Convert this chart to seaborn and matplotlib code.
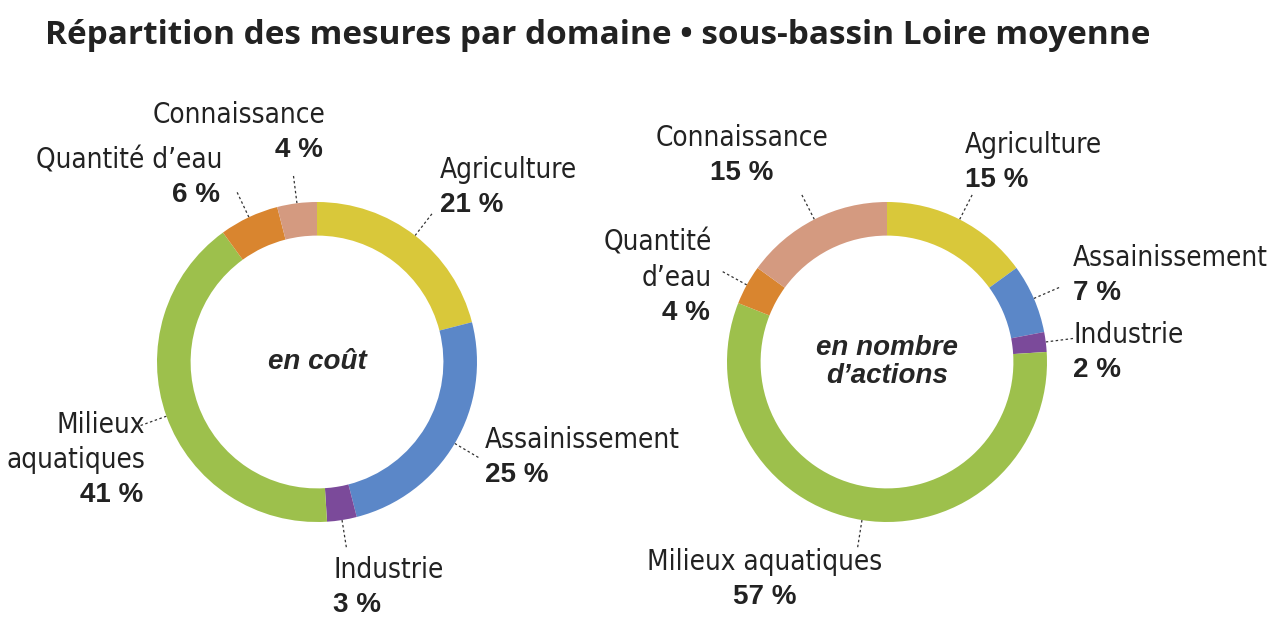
import matplotlib.pyplot as plt
import numpy as np
import seaborn as sns

sns.set_theme(style="white")

domains = ["Agriculture", "Assainissement", "Industrie", "Milieux aquatiques", "Quantité d'eau", "Connaissance"]
cout = [21, 25, 3, 41, 6, 4]
actions = [15, 7, 2, 57, 4, 15]
colors = ["#d9c83a", "#5b87c8", "#7b4a9a", "#9dc04c", "#d9852f", "#d49a80"]

W, H = 1280, 624
fig = plt.figure(figsize=(12.8, 6.24), dpi=100)

# label text blocks: (x, y of first line, ha, lines) in pixels
labels_left = [
    (440, 170, "left", ["Agriculture"]),
    (485, 440, "left", ["Assainissement"]),
    (333, 570, "left", ["Industrie"]),
    (145, 425, "right", ["Milieux", "aquatiques"]),
    (222, 160, "right", ["Quantité d’eau"]),
    (325, 115, "right", ["Connaissance"]),
]
labels_right = [
    (965, 145, "left", ["Agriculture"]),
    (1073, 258, "left", ["Assainissement"]),
    (1073, 335, "left", ["Industrie"]),
    (765, 562, "center", ["Milieux aquatiques"]),
    (712, 243, "right", ["Quantité", "d’eau"]),
    (742, 138, "center", ["Connaissance"]),
]

over = fig.add_axes([0, 0, 1, 1])
over.set_xlim(0, W)
over.set_ylim(H, 0)
over.axis("off")


def donut(cx, cy, values, labels, center_text):
    side = 400
    ax = fig.add_axes([(cx - side / 2) / W, (H - cy - side / 2) / H, side / W, side / H])
    ax.pie(values, colors=colors, startangle=90, counterclock=False, radius=1,
           wedgeprops=dict(width=0.21, edgecolor="none"))
    ax.set_xlim(-1.25, 1.25)
    ax.set_ylim(-1.25, 1.25)
    ax.set_aspect("equal")
    ax.axis("off")
    ax.text(0, 0, center_text, ha="center", va="center", fontsize=20,
            fontweight="bold", style="italic", family="Liberation Sans", linespacing=1.1)
    r = 160
    cum = 0
    for v, (tx, ty, ha, lines) in zip(values, labels):
        theta = np.deg2rad(90 - 360 * (cum + v / 2) / 100)
        cum += v
        x0, y0 = cx + r * np.cos(theta), cy - r * np.sin(theta)
        x1, y1 = cx + (r + 28) * np.cos(theta), cy - (r + 28) * np.sin(theta)
        over.plot([x0, x1], [y0, y1], color="#333333", lw=0.9, ls=(0, (2, 2)))
        for i, line in enumerate(lines):
            over.text(tx, ty + 35 * i, line, ha=ha, va="center", fontsize=20,
                      family="DejaVu Sans", stretch="condensed", color="#222222")
        over.text(tx if ha != "right" else tx - 2, ty + 35 * len(lines), f"{v} %",
                  ha=ha, va="center", fontsize=20, fontweight="bold",
                  family="Liberation Sans", color="#222222")


donut(317, 362, cout, labels_left, "en coût")
donut(887, 362, actions, labels_right, "en nombre\nd’actions")

over.text(45, 35, "Répartition des mesures par domaine • sous-bassin Loire moyenne",
          ha="left", va="center", fontsize=24, fontweight="bold",
          family="Open Sans", color="#222222")

fig.savefig("out.png", dpi=100)
